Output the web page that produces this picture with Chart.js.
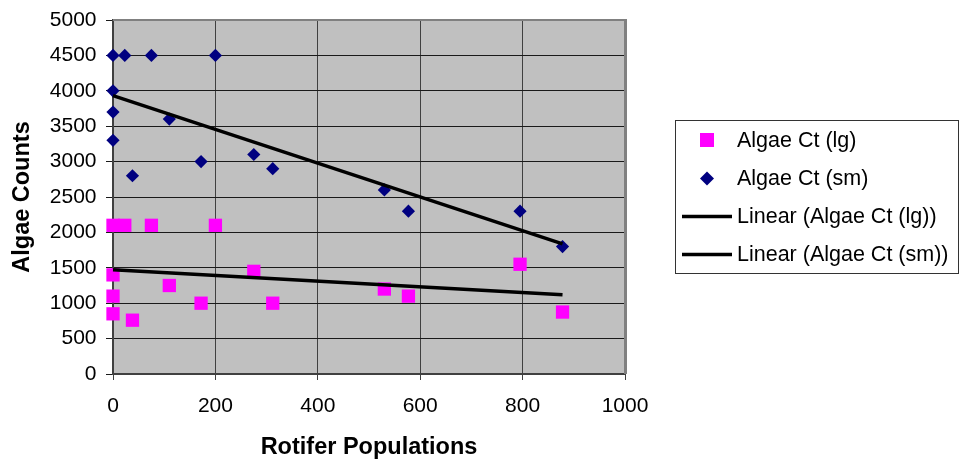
<!DOCTYPE html>
<html>
<head>
<meta charset="utf-8">
<title>Algae Counts vs Rotifer Populations</title>
<script src="https://cdn.jsdelivr.net/npm/chart.js@4.4.0/dist/chart.umd.min.js"></script>
<style>
  html, body { margin: 0; padding: 0; background: #fff; }
  #wrap { width: 960px; height: 462px; }
</style>
</head>
<body>
<div id="wrap"><canvas id="chart" width="960" height="462"></canvas></div>
<script>
// data
const rotifers = [0, 23, 75, 200, 0, 0, 0, 38, 110, 172, 275, 312, 530, 577, 795, 878];
const algaeLg  = [2100, 2100, 2100, 2100, 1400, 1100, 850, 760, 1250, 1000, 1450, 1000, 1200, 1100, 1550, 875];
const algaeSm  = [4500, 4500, 4500, 4500, 4000, 3700, 3300, 2800, 3600, 3000, 3100, 2900, 2600, 2300, 2300, 1800];
const xTicks = [0, 200, 400, 600, 800, 1000];
const yTicks = [0, 500, 1000, 1500, 2000, 2500, 3000, 3500, 4000, 4500, 5000];
const seriesNames = ["Algae Ct (lg)", "Algae Ct (sm)", "Linear (Algae Ct (lg))", "Linear (Algae Ct (sm))"];

const FONT = '"Liberation Sans", Arial, sans-serif';

// least squares trendline, like Excel's "Linear" trendline
function linearTrend(xs, ys) {
  const n = xs.length;
  const mx = xs.reduce((a, b) => a + b, 0) / n;
  const my = ys.reduce((a, b) => a + b, 0) / n;
  let sxy = 0, sxx = 0;
  for (let i = 0; i < n; i++) {
    sxy += (xs[i] - mx) * (ys[i] - my);
    sxx += (xs[i] - mx) * (xs[i] - mx);
  }
  const slope = sxy / sxx;
  const icpt = my - slope * mx;
  const x0 = Math.min(...xs), x1 = Math.max(...xs);
  return [{ x: x0, y: icpt + slope * x0 }, { x: x1, y: icpt + slope * x1 }];
}

const toPoints = (xs, ys) => xs.map((x, i) => ({ x: x, y: ys[i] }));

// gray plot background + top/right frame
const plotFrame = {
  id: "plotFrame",
  beforeDraw(chart) {
    const { ctx, chartArea: a } = chart;
    ctx.save();
    ctx.fillStyle = "#c0c0c0";
    ctx.fillRect(a.left, a.top, a.right - a.left, a.bottom - a.top);
    ctx.restore();
  },
  beforeDatasetsDraw(chart) {
    const { ctx, chartArea: a } = chart;
    ctx.save();
    ctx.strokeStyle = "#808080";
    ctx.lineWidth = 2;
    ctx.beginPath();
    ctx.moveTo(a.left, a.top);
    ctx.lineTo(a.right, a.top);
    ctx.stroke();
    ctx.lineWidth = 3;
    ctx.beginPath();
    ctx.moveTo(a.right + 0.5, a.top - 1);
    ctx.lineTo(a.right + 0.5, a.bottom);
    ctx.stroke();
    ctx.restore();
  }
};

// Excel style legend box on the right
const boxLegend = {
  id: "boxLegend",
  afterDraw(chart) {
    const ctx = chart.ctx;
    ctx.save();
    ctx.fillStyle = "#fff";
    ctx.fillRect(675, 120, 283, 153);
    ctx.strokeStyle = "#333";
    ctx.lineWidth = 1;
    ctx.strokeRect(675.5, 120.5, 283, 153);

    const rows = [140, 178.5, 216.5, 254.5];
    chart.data.datasets.forEach((ds, i) => {
      const y = rows[i];
      if (ds.pointStyle === "rect") {
        ctx.fillStyle = ds.pointBackgroundColor;
        ctx.fillRect(700, y - 7, 14, 14);
      } else if (ds.pointStyle === "rectRot") {
        ctx.fillStyle = ds.pointBackgroundColor;
        ctx.beginPath();
        ctx.moveTo(700, y);
        ctx.lineTo(707, y - 7);
        ctx.lineTo(714, y);
        ctx.lineTo(707, y + 7);
        ctx.closePath();
        ctx.fill();
      } else {
        ctx.strokeStyle = ds.borderColor;
        ctx.lineWidth = ds.borderWidth;
        ctx.beginPath();
        ctx.moveTo(682, y);
        ctx.lineTo(732, y);
        ctx.stroke();
      }
      ctx.fillStyle = "#000";
      ctx.font = "21.5px " + FONT;
      ctx.textBaseline = "alphabetic";
      ctx.fillText(ds.label, 737, y + 6.5);
    });
    ctx.restore();
  }
};

new Chart(document.getElementById("chart"), {
  type: "scatter",
  data: {
    datasets: [
      {
        label: seriesNames[0],
        data: toPoints(rotifers, algaeLg),
        pointStyle: "rect",
        pointRadius: 9.4,
        pointBackgroundColor: "#ff00ff",
        pointBorderWidth: 0,
        clip: false,
        order: 2
      },
      {
        label: seriesNames[1],
        data: toPoints(rotifers, algaeSm),
        pointStyle: "rectRot",
        pointRadius: 6.6,
        pointBackgroundColor: "#000080",
        pointBorderWidth: 0,
        clip: false,
        order: 2
      },
      {
        label: seriesNames[2],
        data: linearTrend(rotifers, algaeLg),
        showLine: true,
        pointRadius: 0,
        borderColor: "#000",
        borderWidth: 3.5,
        clip: false,
        order: 1
      },
      {
        label: seriesNames[3],
        data: linearTrend(rotifers, algaeSm),
        showLine: true,
        pointRadius: 0,
        borderColor: "#000",
        borderWidth: 3.5,
        clip: false,
        order: 1
      }
    ]
  },
  options: {
    responsive: false,
    animation: false,
    events: [],
    layout: { padding: { left: 0, top: 20, right: 335, bottom: 0 } },
    plugins: {
      legend: { display: false },
      tooltip: { enabled: false }
    },
    scales: {
      x: {
        type: "linear",
        min: 0,
        max: 1000,
        afterBuildTicks: (s) => { s.ticks = xTicks.map((v) => ({ value: v })); },
        afterFit: (s) => { s.height = 88; s.paddingLeft = 0; s.paddingRight = 0; },
        ticks: {
          color: "#000",
          font: { family: FONT, size: 21 },
          padding: 14,
          maxRotation: 0,
          callback: (v) => String(v)
        },
        grid: { color: "#404040", lineWidth: 1, tickLength: 6 },
        border: { color: "#404040", width: 2 },
        title: {
          display: true,
          text: "Rotifer Populations",
          color: "#000",
          font: { family: FONT, size: 23.5, weight: "bold" },
          padding: { top: 0, bottom: 0 }
        }
      },
      y: {
        type: "linear",
        min: 0,
        max: 5000,
        afterBuildTicks: (s) => { s.ticks = yTicks.map((v) => ({ value: v })); },
        afterFit: (s) => { s.width = 113; s.paddingTop = 0; s.paddingBottom = 0; },
        ticks: {
          color: "#000",
          font: { family: FONT, size: 21 },
          padding: 9.5,
          callback: (v) => String(v)
        },
        grid: { color: "#1a1a1a", lineWidth: 1, tickLength: 7 },
        border: { color: "#404040", width: 2 },
        title: {
          display: true,
          text: "Algae Counts",
          color: "#000",
          font: { family: FONT, size: 23.5, weight: "bold" },
          padding: { top: 8, bottom: 0 }
        }
      }
    }
  },
  plugins: [plotFrame, boxLegend]
});
</script>
</body>
</html>
